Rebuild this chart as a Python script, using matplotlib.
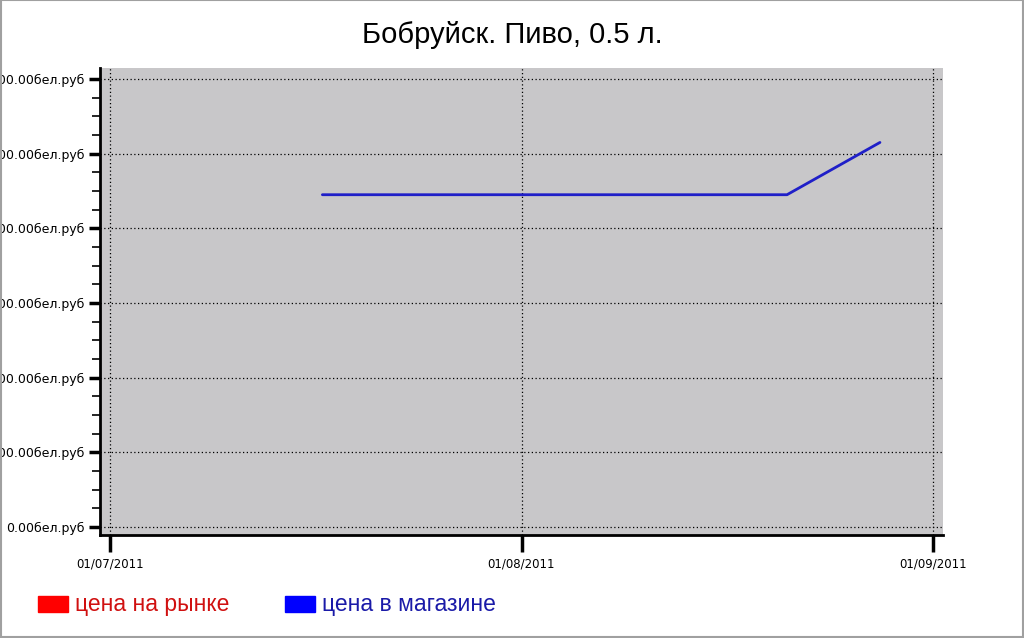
import datetime as dt
import matplotlib
matplotlib.use("Agg")
import matplotlib.pyplot as plt
import matplotlib.dates as mdates
from matplotlib.patches import Rectangle
from matplotlib.ticker import MultipleLocator, FuncFormatter

# data
shop_dates = ["2011-07-17", "2011-07-24", "2011-07-31", "2011-08-07",
              "2011-08-14", "2011-08-21", "2011-08-28"]
shop_price = [4450, 4450, 4450, 4450, 4450, 4450, 5150]
market_dates = []
market_price = []
x_ticks = ["2011-07-01", "2011-08-01", "2011-09-01"]

title = "Бобруйск. Пиво, 0.5 л."
label_market = "цена на рынке"
label_shop = "цена в магазине"

to_date = lambda s: dt.datetime.strptime(s, "%Y-%m-%d")

fig = plt.figure(figsize=(10.24, 6.38), dpi=100)
ax = fig.add_axes([100 / 1024, 1 - 535 / 638, 843 / 1024, 467 / 638])
ax.set_facecolor("#c8c7c9")

ax.plot([to_date(d) for d in market_dates], market_price, color="#ff0000", lw=2)
ax.plot([to_date(d) for d in shop_dates], shop_price, color="#1f1fc8", lw=2,
        solid_capstyle="round")

xt = [to_date(d) for d in x_ticks]
ax.set_xlim(xt[0] - dt.timedelta(hours=18), xt[-1] + dt.timedelta(hours=18))
ax.set_ylim(-107, 6147)
ax.set_xticks(xt)
ax.xaxis.set_major_formatter(mdates.DateFormatter("%d/%m/%Y"))
ax.yaxis.set_major_locator(MultipleLocator(1000))
ax.yaxis.set_minor_locator(MultipleLocator(250))
# labels run off the left edge, as in the original
ax.yaxis.set_major_formatter(FuncFormatter(lambda v, p: "%.2fбел.руб" % v))

ax.grid(True, which="major", color="black", linestyle=(0, (1, 2)), lw=0.9)
for s in ["top", "right"]:
    ax.spines[s].set_visible(False)
for s in ["left", "bottom"]:
    ax.spines[s].set_linewidth(2)
ax.tick_params(axis="y", which="major", length=8, width=2.5, labelsize=9, pad=3)
ax.tick_params(axis="y", which="minor", length=6, width=1.2)
ax.tick_params(axis="x", which="major", length=12, width=2.5, labelsize=8.5, pad=4)

fig.text(0.5, 1 - 35 / 638, title, ha="center", va="center", fontsize=21,
         family="Liberation Sans")

# legend along the bottom
fig.patches.append(Rectangle((38 / 1024, 1 - 612 / 638), 30 / 1024, 16 / 638,
                             transform=fig.transFigure, color="#ff0000"))
fig.text(75 / 1024, 1 - 605 / 638, label_market, color="#d01010", fontsize=16.5,
         va="center", family="Liberation Sans")
fig.patches.append(Rectangle((285 / 1024, 1 - 612 / 638), 30 / 1024, 16 / 638,
                             transform=fig.transFigure, color="#0000ff"))
fig.text(322 / 1024, 1 - 605 / 638, label_shop, color="#1a1aa8", fontsize=16.5,
         va="center", family="Liberation Sans")

# outer frame
fig.patches.append(Rectangle((0.0005, 0.0008), 0.999, 0.9985, transform=fig.transFigure,
                             fill=False, edgecolor="#a0a0a0", lw=1.5))

fig.savefig("out.png", dpi=100)
